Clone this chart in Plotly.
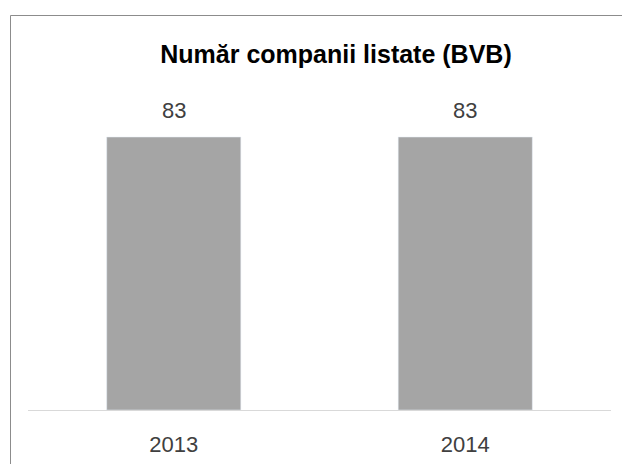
import plotly.graph_objects as go

categories = ["2013", "2014"]
values = [83, 83]
title_text = "Număr companii listate (BVB)"

W, H = 622, 464
ml, mr, mt, mb = 28, 11, 114, 54
plot_w = W - ml - mr
plot_h = H - mt - mb

label_font = "Liberation Sans Narrow, Arial Narrow, Liberation Sans, Arial, sans-serif"

fig = go.Figure()
fig.add_trace(go.Bar(
    x=categories, y=values,
    marker=dict(color="#a5a5a5"),
))

for i, v in enumerate(values):
    fig.add_annotation(
        x=i, y=v, xref="x", yref="y", text=str(v), showarrow=False,
        yanchor="bottom", yshift=12,
        font=dict(family=label_font, size=22, color="#404040"),
    )

def px_to_paper_x(px):
    return (px - ml) / plot_w

def px_to_paper_y(py):
    return (H - mb - py) / plot_h

fig.add_shape(
    type="rect", xref="paper", yref="paper",
    x0=px_to_paper_x(10.5), x1=px_to_paper_x(640),
    y0=px_to_paper_y(480), y1=px_to_paper_y(15.5),
    line=dict(color="#8c8c8c", width=1), fillcolor="rgba(0,0,0,0)",
    layer="above",
)

fig.update_layout(
    width=W, height=H,
    margin=dict(l=ml, r=mr, t=mt, b=mb, pad=0, autoexpand=False),
    paper_bgcolor="white", plot_bgcolor="white",
    bargap=0.54,
    showlegend=False,
    title=dict(
        text="<b>" + title_text + "</b>",
        x=336 / W, xanchor="center", xref="container",
        y=1 - 54 / H, yanchor="middle", yref="container",
        font=dict(family="Liberation Sans, Arial, sans-serif", size=25, color="#000000"),
    ),
    xaxis=dict(
        type="category", automargin=False,
        range=[-0.5, len(categories) - 0.5],
        showline=True, linecolor="#d9d9d9", linewidth=1,
        showgrid=False, zeroline=False,
        ticks="outside", ticklen=15, tickcolor="rgba(0,0,0,0)",
        tickfont=dict(family=label_font, size=22, color="#404040"),
    ),
    yaxis=dict(
        range=[0, 90], visible=False, showgrid=False, zeroline=False,
        automargin=False,
    ),
)

fig.write_html("out.html", config={"displayModeBar": False},
               post_script="document.body.style.margin='0';")
